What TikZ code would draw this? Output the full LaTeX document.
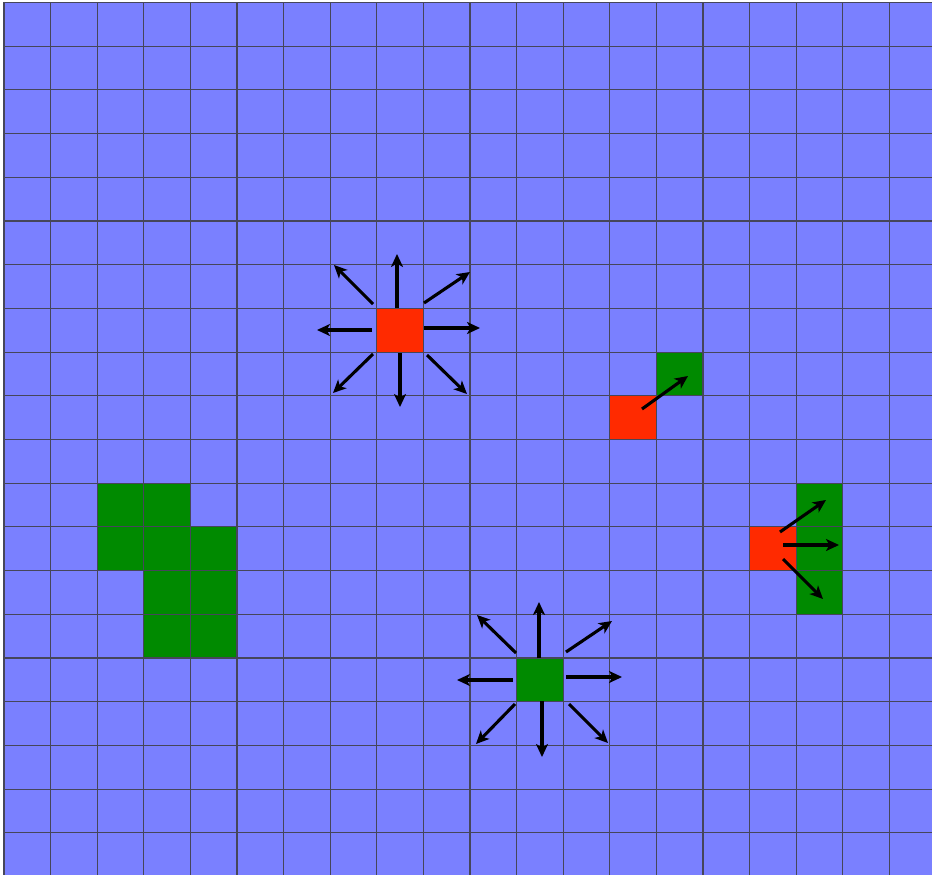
\documentclass[tikz,border=0pt]{standalone}
\usetikzlibrary{arrows.meta}
\definecolor{bgblue}{RGB}{122,128,255}
\definecolor{cellred}{RGB}{255,42,0}
\definecolor{cellgreen}{RGB}{0,138,0}
\definecolor{gridgray}{RGB}{70,70,90}
\begin{document}
\begin{tikzpicture}[x=1pt,y=-1pt,
  arr/.style={line width=3.1pt,-{Stealth[length=13pt,width=12pt,inset=3.5pt]}},
  gridline/.style={draw=gridgray,line width=1.1pt},
  redcell/.style={fill=cellred},
  greencell/.style={fill=cellgreen}]
\useasboundingbox (0,0) rectangle (932,875);
\def\cw{46.6}
\def\rh{43.7}
\begin{scope}
\clip (0,0) rectangle (932,875);
\fill[bgblue] (4,2.5) rectangle (940,880);
% green cells
\foreach \c/\r in {2/11,3/11,2/12,3/12,4/12,3/13,4/13,3/14,4/14,14/8,17/11,17/12,17/13,11/15}
  \fill[greencell] ({4+\c*\cw},{2.5+\r*\rh}) rectangle ({4+(\c+1)*\cw},{2.5+(\r+1)*\rh});
% red cells
\foreach \c/\r in {8/7,13/9,16/12}
  \fill[redcell] ({4+\c*\cw},{2.5+\r*\rh}) rectangle ({4+(\c+1)*\cw},{2.5+(\r+1)*\rh});
% grid
\foreach \i in {0,...,20}
  \draw[gridline] ({4+\i*\cw},2.5) -- ({4+\i*\cw},880);
\foreach \j in {0,...,20}
  \draw[gridline] (4,{2.5+\j*\rh}) -- (940,{2.5+\j*\rh});
\end{scope}
% arrows around red cell 1
\draw[arr] (397,308) -- (397,254);
\draw[arr] (424,303) -- (470,272);
\draw[arr] (424,328) -- (480,328);
\draw[arr] (427,355) -- (467,394);
\draw[arr] (400,353) -- (400,407);
\draw[arr] (373,354) -- (333,393);
\draw[arr] (372,330) -- (317,330);
\draw[arr] (373,304) -- (334,265);
% arrows around green center
\draw[arr] (539,658) -- (539,602);
\draw[arr] (566,652) -- (612,621);
\draw[arr] (566,677) -- (622,677);
\draw[arr] (569,704) -- (608,743);
\draw[arr] (542,701) -- (542,757);
\draw[arr] (515,704) -- (476,744);
\draw[arr] (513,680) -- (457,680);
\draw[arr] (516,653) -- (477,615);
% red cell 2
\draw[arr] (642,409) -- (688,376);
% red cell 3
\draw[arr] (780,532) -- (826,500);
\draw[arr] (783,545) -- (839,545);
\draw[arr] (783,559) -- (823,599);
\end{tikzpicture}
\end{document}
